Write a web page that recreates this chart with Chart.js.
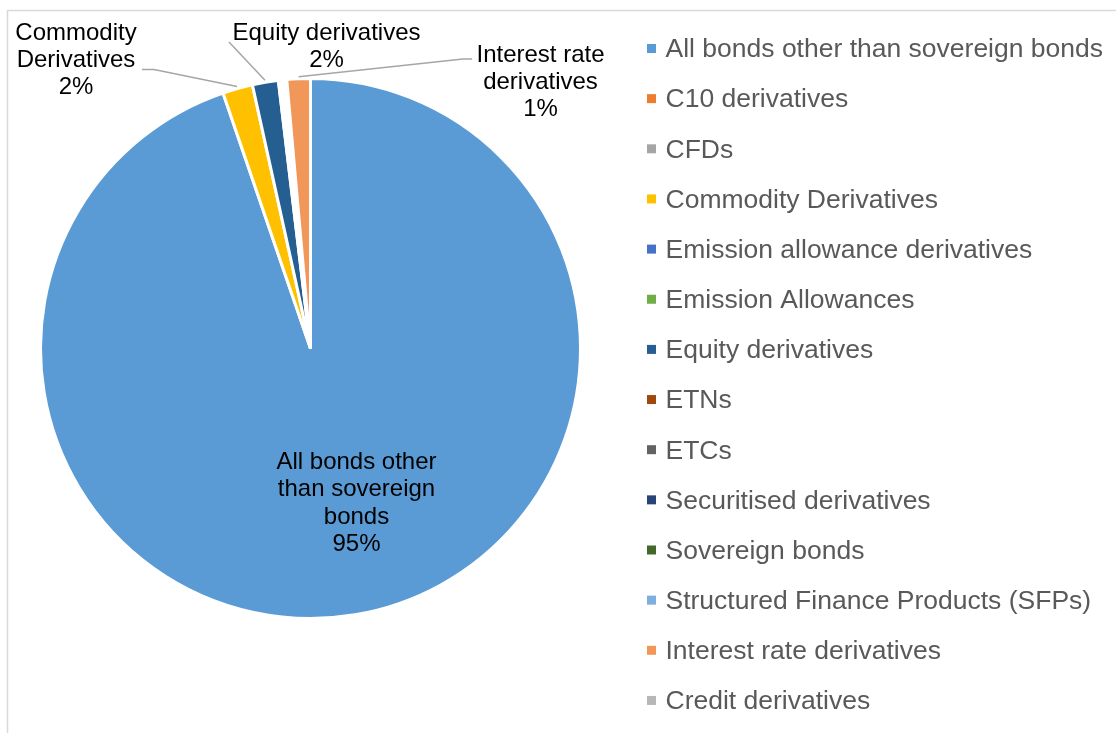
<!DOCTYPE html>
<html>
<head>
<meta charset="utf-8">
<script src="https://cdn.jsdelivr.net/npm/chart.js@4.4.1/dist/chart.umd.min.js"></script>
<style>
  html, body { margin: 0; padding: 0; background: #fff; overflow: hidden; }
  #wrap { position: relative; width: 1116px; height: 733px; }
</style>
</head>
<body>
<div id="wrap"><canvas id="pieChart" width="1116" height="733"></canvas></div>
<script>
// share of each asset class (%)
const categories = [
  'All bonds other than sovereign bonds',
  'C10 derivatives',
  'CFDs',
  'Commodity Derivatives',
  'Emission allowance derivatives',
  'Emission Allowances',
  'Equity derivatives',
  'ETNs',
  'ETCs',
  'Securitised derivatives',
  'Sovereign bonds',
  'Structured Finance Products (SFPs)',
  'Interest rate derivatives',
  'Credit derivatives'
];
const shares = [94.7, 0, 0, 1.8, 0, 0, 1.55, 0.1, 0.1, 0.1, 0.1, 0.1, 1.4, 0];
const colors = [
  '#5B9BD5', '#ED7D31', '#A5A5A5', '#FFC000', '#4472C4', '#70AD47', '#255E91',
  '#9E480E', '#636363', '#264478', '#43682B', '#7CAFDD', '#F1975A', '#B7B7B7'
];

// where the data labels sit (text position + leader line start)
const labelSpots = [
  { idx: 0, x: 356.5, y: 469, lines: ['All bonds other', 'than sovereign', 'bonds'] },
  { idx: 3, x: 76, y: 39.5, lines: ['Commodity', 'Derivatives'], lead: [[142, 69.5], [154, 69.5]] },
  { idx: 6, x: 326.5, y: 40, lines: ['Equity derivatives'], lead: [[229, 42]] },
  { idx: 12, x: 540.5, y: 61.5, lines: ['Interest rate', 'derivatives'], lead: [[472, 59], [463, 59]] }
];

const FONT = '"Liberation Sans", Arial, sans-serif';

const frame = {
  id: 'frame',
  beforeDraw(chart) {
    const ctx = chart.ctx;
    ctx.save();
    ctx.fillStyle = '#fff';
    ctx.fillRect(0, 0, chart.width, chart.height);
    ctx.strokeStyle = '#D9D9D9';
    ctx.lineWidth = 1.5;
    ctx.strokeRect(7.5, 10.5, chart.width + 50, chart.height + 50);
    ctx.restore();
  }
};

const sliceLabels = {
  id: 'sliceLabels',
  afterDatasetsDraw(chart) {
    const ctx = chart.ctx;
    const arcs = chart.getDatasetMeta(0).data;
    const total = shares.reduce((a, b) => a + b, 0);
    ctx.save();
    labelSpots.forEach(s => {
      const arc = arcs[s.idx];
      if (s.lead) {
        const p = arc.getProps(['x', 'y', 'startAngle', 'endAngle', 'outerRadius'], true);
        const mid = (p.startAngle + p.endAngle) / 2;
        const r = p.outerRadius + 2;
        ctx.strokeStyle = '#A6A6A6';
        ctx.lineWidth = 1.5;
        ctx.beginPath();
        ctx.moveTo(s.lead[0][0], s.lead[0][1]);
        for (let i = 1; i < s.lead.length; i++) ctx.lineTo(s.lead[i][0], s.lead[i][1]);
        ctx.lineTo(p.x + r * Math.cos(mid), p.y + r * Math.sin(mid));
        ctx.stroke();
      }
      const pct = Math.round(shares[s.idx] / total * 100) + '%';
      ctx.font = '24px ' + FONT;
      ctx.fillStyle = '#000';
      ctx.textAlign = 'center';
      ctx.textBaseline = 'alphabetic';
      s.lines.concat(pct).forEach((t, i) => ctx.fillText(t, s.x, s.y + i * 27.4));
    });
    ctx.restore();
  }
};

const sideLegend = {
  id: 'sideLegend',
  afterDraw(chart) {
    const ctx = chart.ctx;
    ctx.save();
    ctx.font = '26.5px ' + FONT;
    ctx.textAlign = 'left';
    ctx.textBaseline = 'alphabetic';
    categories.forEach((c, i) => {
      const y = 57.3 + i * 50.15;
      ctx.fillStyle = colors[i];
      ctx.fillRect(647, y - 13.3, 9, 9);
      ctx.fillStyle = '#595959';
      ctx.fillText(c, 665.5, y);
    });
    ctx.restore();
  }
};

new Chart(document.getElementById('pieChart'), {
  type: 'pie',
  data: {
    labels: categories,
    datasets: [{
      data: shares,
      backgroundColor: colors,
      borderColor: '#fff',
      borderWidth: 3
    }]
  },
  options: {
    responsive: false,
    animation: false,
    devicePixelRatio: 1,
    layout: { padding: { left: 39, right: 534, top: 77, bottom: 113 } },
    plugins: {
      legend: { display: false },
      tooltip: { enabled: false }
    }
  },
  plugins: [frame, sliceLabels, sideLegend]
});
</script>
</body>
</html>
